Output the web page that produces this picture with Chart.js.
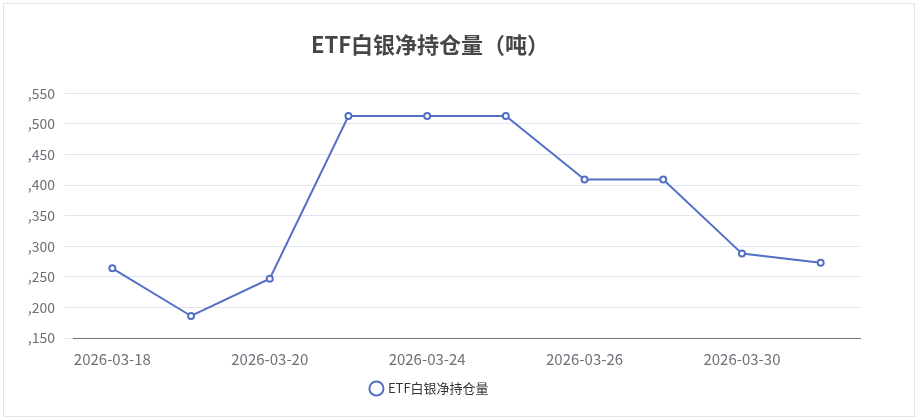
<!DOCTYPE html><html><head><meta charset="utf-8">
<script src="https://cdn.jsdelivr.net/npm/chart.js@4"></script>
<style>body{margin:0;width:922px;height:419px;background:#fff;position:relative;overflow:hidden;font-family:"Noto Sans CJK SC",sans-serif}
#frame{position:absolute;left:3px;top:3px;width:910px;height:412px;border:1px solid #e4e4e4}
#clip{position:absolute;left:27px;top:0;width:890px;height:419px;overflow:hidden}
#wrap{position:absolute;left:-27px;top:0;width:922px;height:419px}</style></head><body>
<div id="frame"></div><div id="clip"><div id="wrap"><canvas id="c"></canvas></div></div>
<script>
const categories=["2026-03-18","2026-03-19","2026-03-20","2026-03-23","2026-03-24","2026-03-25","2026-03-26","2026-03-27","2026-03-30","2026-03-31"];
const holdings=[6264,6186,6247,6513,6513,6513,6409,6409,6288,6273];
const seriesName="ETF白银净持仓量";
const font="'Noto Sans CJK SC', sans-serif";
new Chart(document.getElementById('c'),{type:'line',
data:{labels:categories,datasets:[{label:seriesName,data:holdings,borderColor:'#5470c6',backgroundColor:'#fff',borderWidth:2,pointRadius:3,pointBorderWidth:2,pointBorderColor:'#5470c6',pointBackgroundColor:'#fff',tension:0}]},
options:{responsive:true,maintainAspectRatio:false,animation:false,
layout:{padding:{left:0,right:62,top:0,bottom:14}},
plugins:{title:{display:true,text:'ETF白银净持仓量（吨）',color:'#464646',font:{family:font,size:22,weight:'bold'},padding:{top:31,bottom:36}},
legend:{position:'bottom',labels:{usePointStyle:true,pointStyle:'circle',boxWidth:10,boxHeight:10,color:'#333',font:{family:font,size:13}}}},
scales:{x:{offset:true,grid:{display:false},border:{color:'#6e7079'},
ticks:{autoSkip:false,maxRotation:0,padding:4,color:'#6e7079',font:{family:font,size:15},callback:function(v,i){return i%2===0?this.getLabelForValue(v):'';}}},
y:{min:6150,max:6550,afterFit:s=>{s.width=73;},grid:{color:'#e0e6f1'},border:{display:false},
ticks:{stepSize:50,color:'#6e7079',padding:10,font:{family:font,size:14},callback:v=>v.toLocaleString('en-US')}}}}});
</script></body></html>
